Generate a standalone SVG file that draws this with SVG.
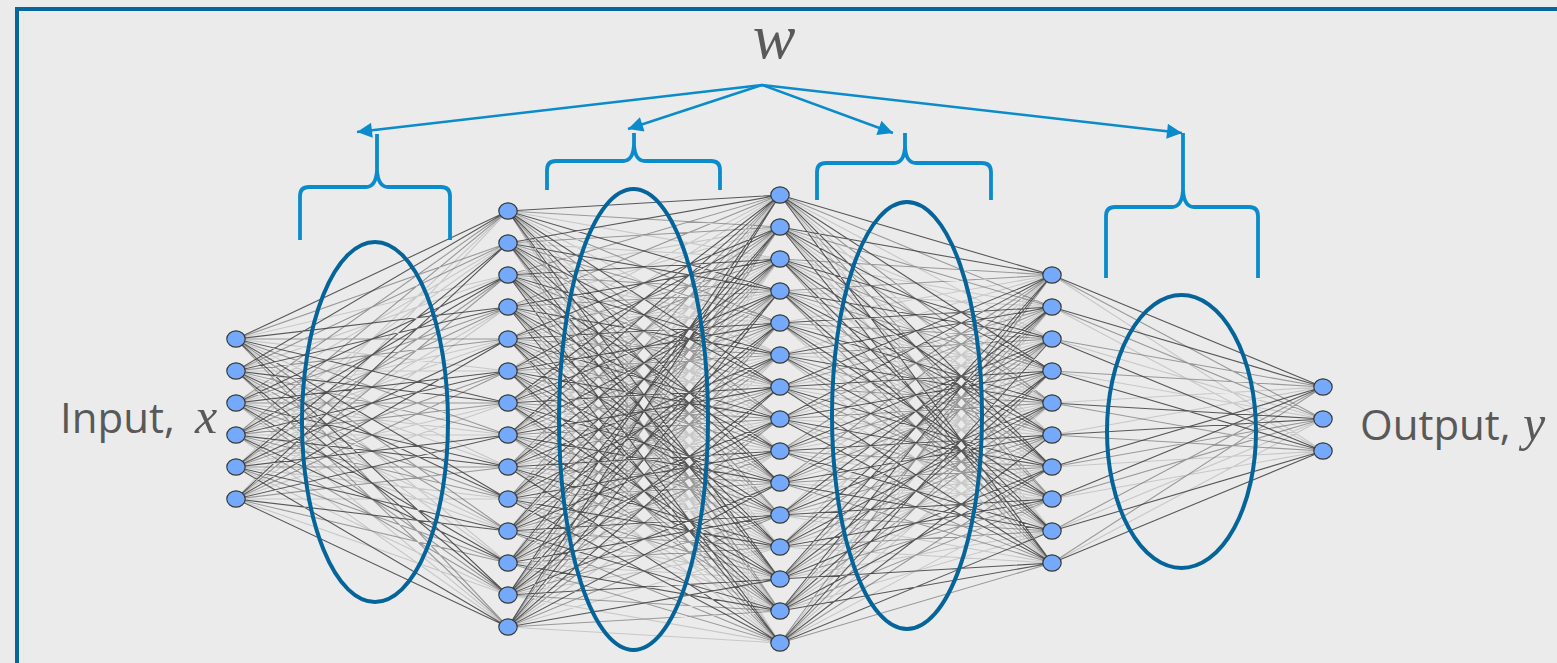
<svg xmlns="http://www.w3.org/2000/svg" xmlns:xlink="http://www.w3.org/1999/xlink" width="1557" height="663" viewBox="0 0 1557 663">
<style>
.frame{fill:none;stroke:#05679c;stroke-width:4}
.ell{fill:none;stroke:#05659a;stroke-width:4}
.br{fill:none;stroke:#0a8bcc;stroke-width:3.8;stroke-linejoin:round}
.ar{fill:none;stroke:#0a8bcc;stroke-width:2.5}
.cn{fill:none;stroke-width:1.1;stroke-linejoin:round}
.c0{stroke:#333;stroke-opacity:.8}
.c1{stroke:#555;stroke-opacity:.55}
.c2{stroke:#888;stroke-opacity:.35}
.nd{fill:#74a9fc;stroke:#3a3a3a;stroke-width:1.2}
.lbl{font-family:"Open Sans","Noto Sans",sans-serif;font-size:42px;fill:#595959}
.math{font-family:"Liberation Serif",serif;font-style:italic;fill:#595959}
</style>
<defs>
<ellipse id="nd" cx="0" cy="0" rx="9.2" ry="8.2"/>
<marker id="ah" viewBox="0 0 10 10" refX="10" refY="5" markerWidth="6.4" markerHeight="6" orient="auto"><path d="M0 0L10 5L0 10z" fill="#0a8bcc"/></marker>
</defs>
<rect width="1557" height="663" fill="#ebebeb"/>
<rect class="frame" x="17" y="9" width="1600" height="700"/>
<g id="connectors">
<path class="cn c2" d="M236 339L508 275L236 371L508 371L236 339L508 467L236 371L508 563L236 339M236 403L508 243L236 435L508 339L236 403L508 435L236 435L508 531L236 403L508 627L236 435M236 467L508 211L236 499L508 307L236 467L508 403L236 499L508 499L236 467L508 595L236 499M508 211L780 259L508 243L780 355L508 211L780 451L508 243L780 547L508 211L780 643L508 243M508 275L780 227L508 307L780 323L508 275L780 419L508 307L780 515L508 275L780 611L508 307M508 339L780 195L508 371L780 291L508 339L780 387L508 371L780 483L508 339L780 579L508 371M508 403L780 259L508 435L780 355L508 403L780 451L508 435L780 547L508 403L780 643L508 435M508 467L780 227L508 499L780 323L508 467L780 419L508 499L780 515L508 467L780 611L508 499M508 531L780 195L508 563L780 291L508 531L780 387L508 563L780 483L508 531L780 579L508 563M508 595L780 259L508 627L780 355L508 595L780 451L508 627L780 547L508 595L780 643L508 627M780 195L1052 339L780 227L1052 435L780 195L1052 531L780 227M780 259L1052 307L780 291L1052 403L780 259L1052 499L780 291M780 323L1052 275L780 355L1052 371L780 323L1052 467L780 355L1052 563L780 323M780 387L1052 339L780 419L1052 435L780 387L1052 531L780 419M780 451L1052 307L780 483L1052 403L780 451L1052 499L780 483M780 515L1052 275L780 547L1052 371L780 515L1052 467L780 547L1052 563L780 515M780 579L1052 339L780 611L1052 435L780 579L1052 531L780 611M780 643L1052 307M780 643L1052 403M780 643L1052 499M1052 275L1323 451L1052 307M1052 339L1323 419L1052 371M1052 403L1323 387L1052 435M1052 467L1323 451L1052 499M1052 531L1323 419L1052 563"/>
<path class="cn c1" d="M236 339L508 243L236 371L508 339L236 339L508 435L236 371L508 531L236 339L508 627L236 371M236 403L508 211L236 435L508 307L236 403L508 403L236 435L508 499L236 403L508 595L236 435M236 467L508 275L236 499L508 371L236 467L508 467L236 499L508 563L236 467M508 211L780 227L508 243L780 323L508 211L780 419L508 243L780 515L508 211L780 611L508 243M508 275L780 195L508 307L780 291L508 275L780 387L508 307L780 483L508 275L780 579L508 307M508 339L780 259L508 371L780 355L508 339L780 451L508 371L780 547L508 339L780 643L508 371M508 403L780 227L508 435L780 323L508 403L780 419L508 435L780 515L508 403L780 611L508 435M508 467L780 195L508 499L780 291L508 467L780 387L508 499L780 483L508 467L780 579L508 499M508 531L780 259L508 563L780 355L508 531L780 451L508 563L780 547L508 531L780 643L508 563M508 595L780 227L508 627L780 323L508 595L780 419L508 627L780 515L508 595L780 611L508 627M780 195L1052 307L780 227L1052 403L780 195L1052 499L780 227M780 259L1052 275L780 291L1052 371L780 259L1052 467L780 291L1052 563L780 259M780 323L1052 339L780 355L1052 435L780 323L1052 531L780 355M780 387L1052 307L780 419L1052 403L780 387L1052 499L780 419M780 451L1052 275L780 483L1052 371L780 451L1052 467L780 483L1052 563L780 451M780 515L1052 339L780 547L1052 435L780 515L1052 531L780 547M780 579L1052 307L780 611L1052 403L780 579L1052 499L780 611M780 643L1052 275M780 643L1052 371M780 643L1052 467M780 643L1052 563M1052 275L1323 419L1052 307M1052 339L1323 387L1052 371M1052 403L1323 451L1052 435M1052 467L1323 419L1052 499M1052 531L1323 387L1052 563"/>
<path class="cn c0" d="M236 339L508 211L236 371L508 307L236 339L508 403L236 371L508 499L236 339L508 595L236 371M236 403L508 275L236 435L508 371L236 403L508 467L236 435L508 563L236 403M236 467L508 243L236 499L508 339L236 467L508 435L236 499L508 531L236 467L508 627L236 499M508 211L780 195L508 243L780 291L508 211L780 387L508 243L780 483L508 211L780 579L508 243M508 275L780 259L508 307L780 355L508 275L780 451L508 307L780 547L508 275L780 643L508 307M508 339L780 227L508 371L780 323L508 339L780 419L508 371L780 515L508 339L780 611L508 371M508 403L780 195L508 435L780 291L508 403L780 387L508 435L780 483L508 403L780 579L508 435M508 467L780 259L508 499L780 355L508 467L780 451L508 499L780 547L508 467L780 643L508 499M508 531L780 227L508 563L780 323L508 531L780 419L508 563L780 515L508 531L780 611L508 563M508 595L780 195L508 627L780 291L508 595L780 387L508 627L780 483L508 595L780 579L508 627M780 195L1052 275L780 227L1052 371L780 195L1052 467L780 227L1052 563L780 195M780 259L1052 339L780 291L1052 435L780 259L1052 531L780 291M780 323L1052 307L780 355L1052 403L780 323L1052 499L780 355M780 387L1052 275L780 419L1052 371L780 387L1052 467L780 419L1052 563L780 387M780 451L1052 339L780 483L1052 435L780 451L1052 531L780 483M780 515L1052 307L780 547L1052 403L780 515L1052 499L780 547M780 579L1052 275L780 611L1052 371L780 579L1052 467L780 611L1052 563L780 579M780 643L1052 339M780 643L1052 435M780 643L1052 531M1052 275L1323 387L1052 307M1052 339L1323 451L1052 371M1052 403L1323 419L1052 435M1052 467L1323 387L1052 499M1052 531L1323 451L1052 563"/>
<g id="weight-arrows" class="ar">
<path d="M762 85L357 132" marker-end="url(#ah)"/>
<path d="M762 85L628 129" marker-end="url(#ah)"/>
<path d="M762 85L893 133" marker-end="url(#ah)"/>
<path d="M762 85L1182 133" marker-end="url(#ah)"/>
</g>
</g>
<g id="weight-groups">
<ellipse id="w1" class="ell" cx="375" cy="422" rx="73" ry="180"/>
<ellipse id="w2" class="ell" cx="633.5" cy="419.5" rx="74.5" ry="230.5"/>
<ellipse id="w3" class="ell" cx="907" cy="415.5" rx="75" ry="213.5"/>
<ellipse id="w4" class="ell" cx="1181.5" cy="431.5" rx="74.5" ry="136.5"/>
</g>
<g id="braces" class="br">
<path id="b1" d="M300 240V196Q300 187 309 187H366Q376 187 377 170Q378 187 388 187H441Q450 187 450 196V240M377 172V134"/>
<path id="b2" d="M547 190V170Q547 161 556 161H623Q633 161 634 145Q635 161 645 161H711Q720 161 720 170V190M634 147V133"/>
<path id="b3" d="M817 200V172Q817 163 826 163H894Q904 163 905 147Q906 163 916 163H982Q991 163 991 172V200M905 149V133"/>
<path id="b4" d="M1106 278V216Q1106 207 1115 207H1172Q1182 207 1183 190Q1184 207 1194 207H1249Q1258 207 1258 216V278M1183 192V133"/>
</g>
<g id="input-layer" class="nd">
<use id="n1-1" xlink:href="#nd" x="236" y="339"/><use id="n1-2" xlink:href="#nd" x="236" y="371"/><use id="n1-3" xlink:href="#nd" x="236" y="403"/><use id="n1-4" xlink:href="#nd" x="236" y="435"/><use id="n1-5" xlink:href="#nd" x="236" y="467"/><use id="n1-6" xlink:href="#nd" x="236" y="499"/>
</g>
<g id="hidden-layer-1" class="nd">
<use id="n2-1" xlink:href="#nd" x="508" y="211"/><use id="n2-2" xlink:href="#nd" x="508" y="243"/><use id="n2-3" xlink:href="#nd" x="508" y="275"/><use id="n2-4" xlink:href="#nd" x="508" y="307"/><use id="n2-5" xlink:href="#nd" x="508" y="339"/><use id="n2-6" xlink:href="#nd" x="508" y="371"/><use id="n2-7" xlink:href="#nd" x="508" y="403"/><use id="n2-8" xlink:href="#nd" x="508" y="435"/><use id="n2-9" xlink:href="#nd" x="508" y="467"/><use id="n2-10" xlink:href="#nd" x="508" y="499"/><use id="n2-11" xlink:href="#nd" x="508" y="531"/><use id="n2-12" xlink:href="#nd" x="508" y="563"/><use id="n2-13" xlink:href="#nd" x="508" y="595"/><use id="n2-14" xlink:href="#nd" x="508" y="627"/>
</g>
<g id="hidden-layer-2" class="nd">
<use id="n3-1" xlink:href="#nd" x="780" y="195"/><use id="n3-2" xlink:href="#nd" x="780" y="227"/><use id="n3-3" xlink:href="#nd" x="780" y="259"/><use id="n3-4" xlink:href="#nd" x="780" y="291"/><use id="n3-5" xlink:href="#nd" x="780" y="323"/><use id="n3-6" xlink:href="#nd" x="780" y="355"/><use id="n3-7" xlink:href="#nd" x="780" y="387"/><use id="n3-8" xlink:href="#nd" x="780" y="419"/><use id="n3-9" xlink:href="#nd" x="780" y="451"/><use id="n3-10" xlink:href="#nd" x="780" y="483"/><use id="n3-11" xlink:href="#nd" x="780" y="515"/><use id="n3-12" xlink:href="#nd" x="780" y="547"/><use id="n3-13" xlink:href="#nd" x="780" y="579"/><use id="n3-14" xlink:href="#nd" x="780" y="611"/><use id="n3-15" xlink:href="#nd" x="780" y="643"/>
</g>
<g id="hidden-layer-3" class="nd">
<use id="n4-1" xlink:href="#nd" x="1052" y="275"/><use id="n4-2" xlink:href="#nd" x="1052" y="307"/><use id="n4-3" xlink:href="#nd" x="1052" y="339"/><use id="n4-4" xlink:href="#nd" x="1052" y="371"/><use id="n4-5" xlink:href="#nd" x="1052" y="403"/><use id="n4-6" xlink:href="#nd" x="1052" y="435"/><use id="n4-7" xlink:href="#nd" x="1052" y="467"/><use id="n4-8" xlink:href="#nd" x="1052" y="499"/><use id="n4-9" xlink:href="#nd" x="1052" y="531"/><use id="n4-10" xlink:href="#nd" x="1052" y="563"/>
</g>
<g id="output-layer" class="nd">
<use id="n5-1" xlink:href="#nd" x="1323" y="387"/><use id="n5-2" xlink:href="#nd" x="1323" y="419"/><use id="n5-3" xlink:href="#nd" x="1323" y="451"/>
</g>
<g id="labels">
<text class="math" x="774" y="58" font-size="64" text-anchor="middle">w</text>
<text class="lbl" x="60" y="433">Input,</text>
<text class="math" x="195" y="433" font-size="50">x</text>
<text class="lbl" x="1360" y="440">Output,</text>
<text class="math" x="1523" y="440" font-size="50">y</text>
</g>
</svg>
